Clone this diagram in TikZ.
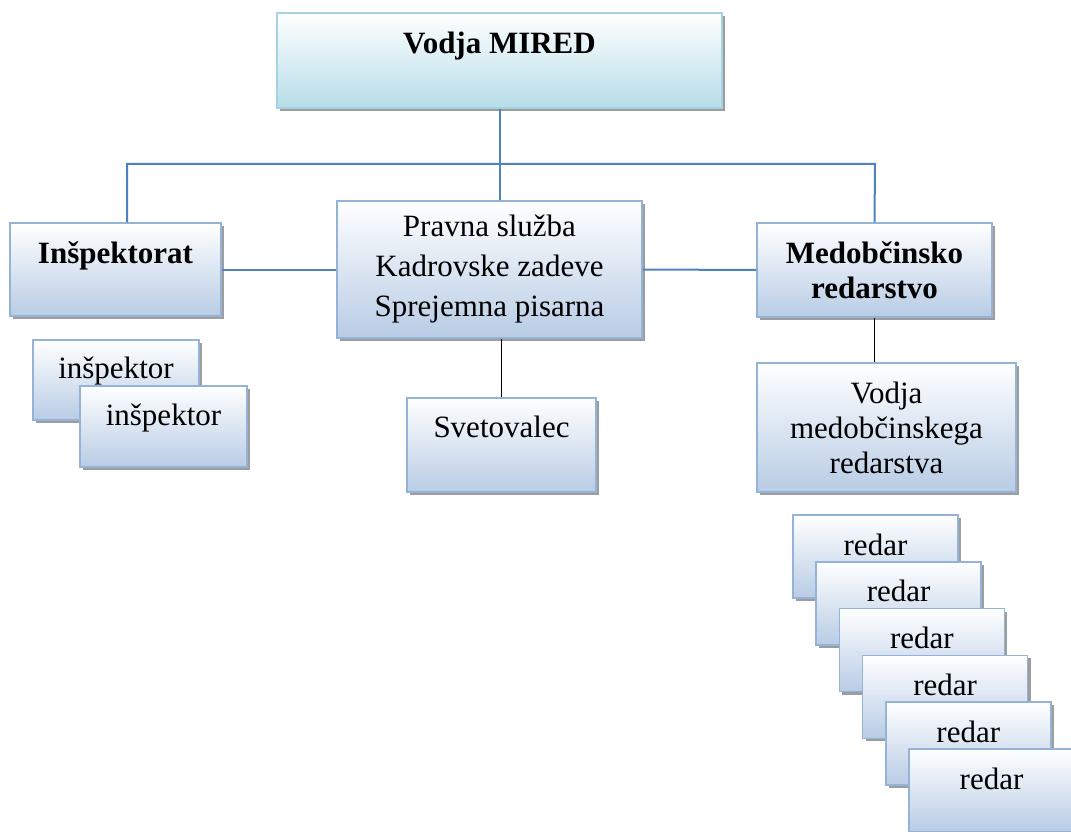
\documentclass[tikz,border=0pt]{standalone}
\usepackage{fontspec}
\setmainfont{Liberation Serif}
\usetikzlibrary{shadows}
\definecolor{boxline}{RGB}{149,179,215}
\definecolor{boxfill}{RGB}{184,204,229}
\definecolor{topline}{RGB}{164,212,226}
\definecolor{topfill}{RGB}{182,221,232}
\definecolor{busline}{RGB}{79,129,189}
\begin{document}
\begin{tikzpicture}[x=1pt,y=-1pt,
  box/.style={draw=boxline,line width=1.5pt,top color=white,bottom color=boxfill,
    drop shadow={shadow xshift=3pt,shadow yshift=-3pt,fill=black!45,opacity=0.85},
    inner sep=0pt,align=center,font=\fontsize{31}{35}\selectfont},
  single/.style={text height=22pt,text depth=#1},
  bus/.style={draw=busline,line width=2pt},
  link/.style={draw=black,line width=1.5pt}]
\useasboundingbox (0,0) rectangle (1071,832);
\node (mired) at (499.5,60.5) [box,draw=topline,bottom color=topfill,minimum width=445pt,minimum height=95pt,single=36pt] {\textbf{Vodja MIRED}};
\node (insp) at (115.5,269.5) [box,minimum width=211pt,minimum height=93pt,single=35pt] {\textbf{Inšpektorat}};
\node (pravna) at (489.5,269.5) [box,minimum width=305pt,minimum height=137pt,font=\fontsize{31}{40}\selectfont] {Pravna služba\\Kadrovske zadeve\\Sprejemna pisarna};
\node (med) at (874.5,270) [box,minimum width=235pt,minimum height=94pt] {\textbf{Medobčinsko}\\\textbf{redarstvo}};
\node (vodja) at (886.5,427.5) [box,minimum width=259pt,minimum height=129pt] {Vodja\\medobčinskega\\redarstva};
\node (svet) at (501.5,445) [box,minimum width=189pt,minimum height=94pt,single=38pt] {Svetovalec};
\node (insp1) at (116,380) [box,minimum width=166pt,minimum height=80pt,single=26pt] {inšpektor};
\node (insp2) at (163.5,426.5) [box,minimum width=167pt,minimum height=81pt,single=25pt] {inšpektor};
\foreach \i in {0,...,5}
  \node (redar\i) at ({875.5+23.2*\i},{556.5+46.8*\i}) [box,minimum width=165pt,minimum height=83pt,single=25pt] {redar};
\coordinate (busL) at (127,164);
\coordinate (busR) at (875,164);
\draw [bus] (busL |- insp.north) -- (busL) -- (busR) -- (med.north);
\draw [bus] (mired.south) -- (mired.south |- pravna.north);
\draw [bus] (insp.east) -- (pravna.west);
\draw [bus] (pravna.east) -- (med.west);
\draw [link] (med.south) -- (med.south |- vodja.north);
\draw [link] (svet.north) -- (svet.north |- pravna.south);
\end{tikzpicture}
\end{document}
